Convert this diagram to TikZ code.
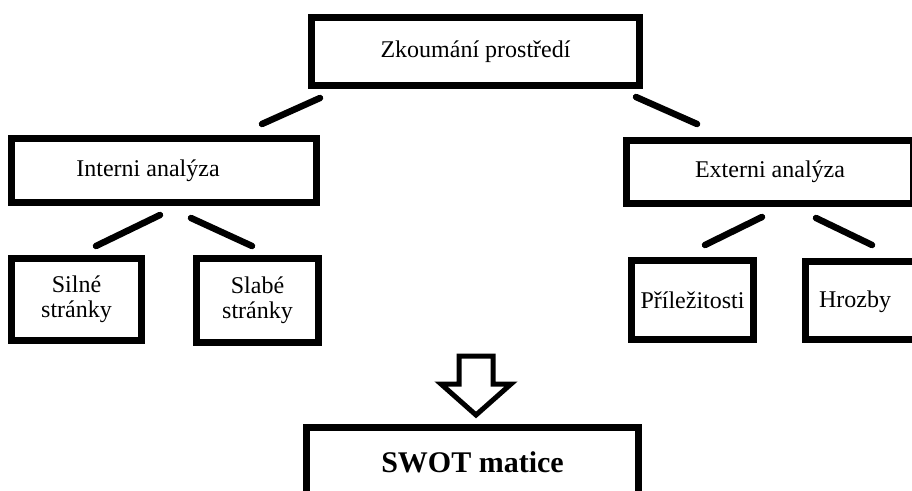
\documentclass[tikz,border=0pt]{standalone}
\usepackage{fontspec}
\setmainfont{Liberation Serif}
\usetikzlibrary{calc}

\tikzset{
  box/.style={draw, line width=7pt, inner sep=0pt, align=center},
  conn/.style={line width=6.5pt, line cap=round},
}

\begin{document}
\begin{tikzpicture}[x=1pt, y=-1pt, font=\fontsize{24}{25}\selectfont]
  \path[use as bounding box, clip] (0,0) rectangle (912,490);   % frame of the picture

  % boxes
  \node[box, minimum width=328pt, minimum height=68pt] (zk) at (475.5,51.5) {Zkoumání prostředí};
  \node[box, minimum width=305pt, minimum height=64pt,
        label={[xshift=-16pt]center:Interni analýza}] (ia) at (164,170.5) {};
  \node[box, minimum width=287pt, minimum height=63pt] (ea) at (770,172) {Externi analýza};
  \node[box, minimum width=130pt, minimum height=82pt] (sil) at (76.5,299.5) {Silné\\stránky};
  \node[box, minimum width=122pt, minimum height=84pt] (sla) at (257.5,300.5) {Slabé\\stránky};
  \node[box, minimum width=122pt, minimum height=79pt] (pr) at (692.5,300) {Příležitosti};
  \node[box, minimum width=121pt, minimum height=78pt,
        label={[xshift=-11pt, yshift=-1.5pt]center:Hrozby}] (hr) at (866,300.5) {};
  \node[box, minimum width=332pt, minimum height=70pt,
        font=\bfseries\fontsize{30}{32}\selectfont] (sw) at (472.5,462.5) {SWOT matice};

  % connectors
  \draw[conn] ([shift={(12,9)}]zk.south west) -- ([shift={(-58,-11)}]ia.north east);
  \draw[conn] ([shift={(-7,8)}]zk.south east) -- ([shift={(74,-13)}]ea.north west);
  \draw[conn] ([shift={(-4,9)}]ia.south) -- ([shift={(19.5,-9)}]sil.north);
  \draw[conn] ([shift={(27,12)}]ia.south) -- ([shift={(-5.5,-9)}]sla.north);
  \draw[conn] ([shift={(-8,10)}]ea.south) -- ([shift={(12.5,-12)}]pr.north);
  \draw[conn] ([shift={(46,11)}]ea.south) -- ([shift={(70,-13)}]hr.north west);

  % block arrow
  \draw[line width=5pt, line join=miter]
    (459,356) -- (493,356) -- (493,384) -- (511,384) -- (476,415)
    -- (441,384) -- (459,384) -- cycle;
\end{tikzpicture}
\end{document}
